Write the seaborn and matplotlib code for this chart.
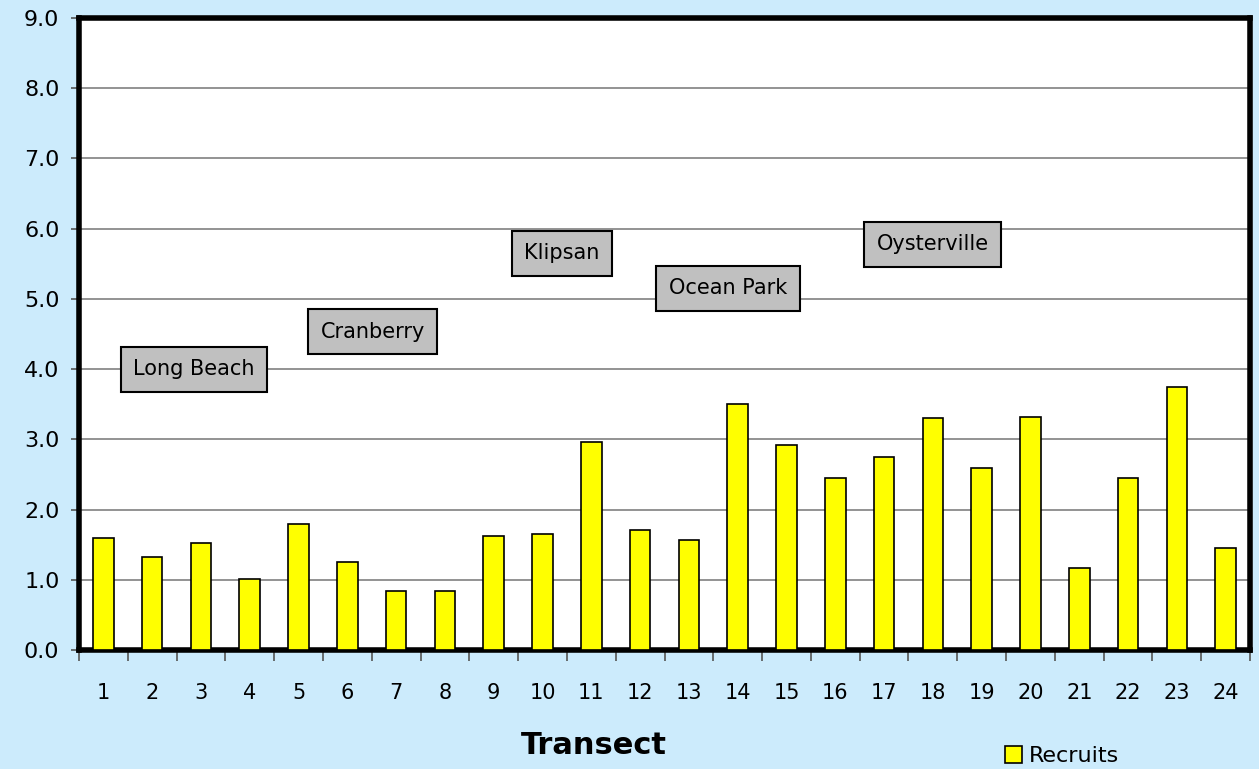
import numpy as np
import pandas as pd
import matplotlib
matplotlib.use("Agg")
import matplotlib.pyplot as plt
import seaborn as sns

# dati
transects = [str(i) for i in range(1, 25)]
recruits = [1.60, 1.32, 1.52, 1.01, 1.79, 1.25, 0.84, 0.84, 1.62, 1.65, 2.96, 1.71,
            1.57, 3.50, 2.92, 2.45, 2.75, 3.30, 2.59, 3.32, 1.17, 2.45, 3.75, 1.45]
sites = ["Long Beach", "Cranberry", "Klipsan", "Ocean Park", "Oysterville"]
yticks = np.arange(0, 10, 1.0)

df = pd.DataFrame({"Transect": transects, "Recruits": recruits})

sns.set_style("white")
plt.rcParams["font.family"] = ["DejaVu Sans"]
plt.rcParams["text.color"] = "black"
plt.rcParams["xtick.color"] = "black"
plt.rcParams["ytick.color"] = "black"
plt.rcParams["axes.labelcolor"] = "black"

bg = "#CCEBFC"
fig = plt.figure(figsize=(12.59, 7.69), dpi=100, facecolor=bg)
ax = fig.add_axes([0.0627, 0.1547, 0.9302, 0.8219])
ax.set_facecolor("white")

sns.barplot(data=df, x="Transect", y="Recruits", color="#FFFF00", edgecolor="black",
            linewidth=1.2, width=0.42, saturation=1, ax=ax, label="Recruits", zorder=3)
if ax.get_legend() is not None:
    ax.get_legend().remove()

ax.set_ylim(0, 9)
ax.set_xlim(-0.5, 23.5)
ax.set_yticks(yticks)
ax.set_yticklabels([f"{v:.1f}" for v in yticks], fontsize=16)
ax.yaxis.grid(True, color="#808080", linewidth=1.2, zorder=0)
ax.set_axisbelow(True)

# tacche tra le categorie sull'asse x
ax.set_xticks(np.arange(-0.5, 24, 1.0), minor=True)
ax.tick_params(axis="x", which="major", bottom=True, length=0, pad=24, labelsize=15)
ax.tick_params(axis="x", which="minor", bottom=True, length=8, width=1.2,
               color="#555555", direction="out")
ax.tick_params(axis="y", left=True, length=6, width=1.2, color="#555555",
               direction="out", pad=8)

for s in ax.spines.values():
    s.set_visible(True)
    s.set_linewidth(4)
    s.set_color("black")

ax.set_xlabel("Transect", fontsize=22, fontweight="bold")
ax.xaxis.set_label_coords(0.44, -0.128)
ax.set_ylabel("")

# etichette delle località
box = dict(boxstyle="square,pad=0.6", facecolor="#C0C0C0", edgecolor="black", linewidth=1.5)
pos = [(1.86, 4.0), (5.52, 4.53), (9.4, 5.65), (12.8, 5.15), (17.0, 5.78)]
for name, (x, y) in zip(sites, pos):
    ax.text(x, y, name, fontsize=15, ha="center", va="center", bbox=box, zorder=5)

handles, labels = ax.get_legend_handles_labels()
fig.legend(handles[:1], labels[:1], loc="lower left", bbox_to_anchor=(0.782, -0.022),
           frameon=False, fontsize=16, handlelength=0.8, handleheight=0.8,
           handletextpad=0.3)

fig.savefig("out.png", dpi=100, facecolor=bg)
